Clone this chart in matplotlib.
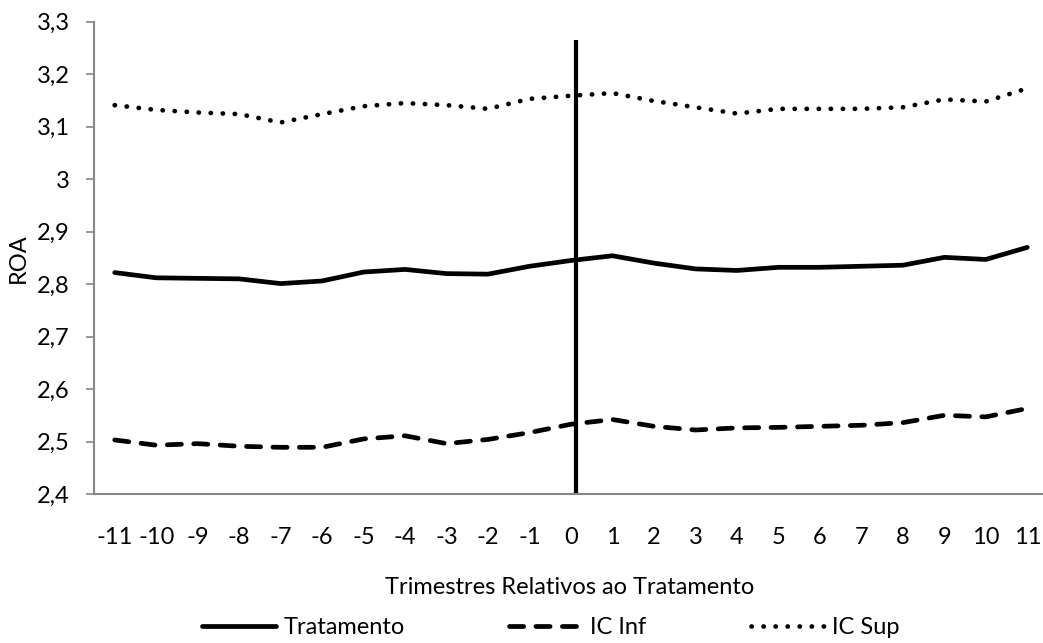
import matplotlib
matplotlib.use("Agg")
import matplotlib.pyplot as plt
from matplotlib.ticker import FixedLocator

# ---- data ----
quarters = list(range(-11, 12))
tratamento = [2.822, 2.812, 2.811, 2.810, 2.801, 2.806, 2.823, 2.828, 2.820, 2.819, 2.834,
              2.845, 2.854, 2.840, 2.829, 2.826, 2.832, 2.832, 2.834, 2.836, 2.851, 2.847, 2.870]
ic_inf = [2.503, 2.493, 2.496, 2.491, 2.489, 2.489, 2.505, 2.511, 2.496, 2.504, 2.517,
          2.533, 2.542, 2.529, 2.522, 2.526, 2.527, 2.529, 2.531, 2.536, 2.550, 2.547, 2.563]
ic_sup = [3.141, 3.132, 3.127, 3.124, 3.108, 3.124, 3.139, 3.145, 3.141, 3.134, 3.153,
          3.159, 3.164, 3.149, 3.137, 3.125, 3.134, 3.134, 3.134, 3.137, 3.152, 3.148, 3.173]
y_ticks = [2.4, 2.5, 2.6, 2.7, 2.8, 2.9, 3.0, 3.1, 3.2, 3.3]
y_tick_labels = ["2,4", "2,5", "2,6", "2,7", "2,8", "2,9", "3", "3,1", "3,2", "3,3"]
treatment_x = 0.12
treatment_top = 3.265

FONT = ["Lato", "DejaVu Sans"]
plt.rcParams['font.family'] = FONT
FS = 17

fig = plt.figure(figsize=(10.43, 6.43), dpi=100)
ax = fig.add_axes([0.0901, 0.2317, 0.9147, 0.7345])

lw = 3.4
ax.plot(quarters, tratamento, color="black", lw=lw, solid_capstyle="round",
        solid_joinstyle="round", label="Tratamento")
ax.plot(quarters, ic_inf, color="black", lw=lw, dashes=(3.0, 2.6),
        dash_capstyle="round", dash_joinstyle="round", label="IC Inf")
ax.plot(quarters, ic_sup, color="black", lw=lw, dashes=(0.05, 2.5),
        dash_capstyle="round", dash_joinstyle="round", label="IC Sup")

ax.plot([treatment_x, treatment_x], [y_ticks[0], treatment_top], color="black",
        lw=3.0, solid_capstyle="butt", clip_on=False)

ax.set_xlim(quarters[0] - 0.5, quarters[-1] + 0.5)
ax.set_ylim(y_ticks[0], y_ticks[-1])
ax.set_xticks(quarters)
ax.set_xticklabels([str(q) for q in quarters])
ax.yaxis.set_major_locator(FixedLocator(y_ticks))
ax.set_yticklabels(y_tick_labels)

for s in ["top", "right"]:
    ax.spines[s].set_visible(False)
for s in ["left", "bottom"]:
    ax.spines[s].set_color("#868686")
    ax.spines[s].set_linewidth(1.5)

ax.tick_params(axis="x", length=0, pad=24, labelsize=FS, colors="black")
ax.tick_params(axis="y", length=5.5, width=1.2, color="#868686", pad=12,
               labelsize=FS, labelcolor="black")

fig.text(570 / 1043, 1 - 587 / 643, "Trimestres Relativos ao Tratamento",
         ha="center", va="center", fontsize=FS)
fig.text(18 / 1043, 1 - 258 / 643, "ROA", rotation=90, ha="center", va="center",
         fontsize=FS)

leg = fig.legend(loc="center", bbox_to_anchor=(551 / 1043, 1 - 628 / 643), ncol=3,
                 frameon=False, fontsize=FS, handlelength=3.1, handletextpad=0.35,
                 columnspacing=4.4, borderaxespad=0, borderpad=0)

fig.savefig("out.png", dpi=100)
